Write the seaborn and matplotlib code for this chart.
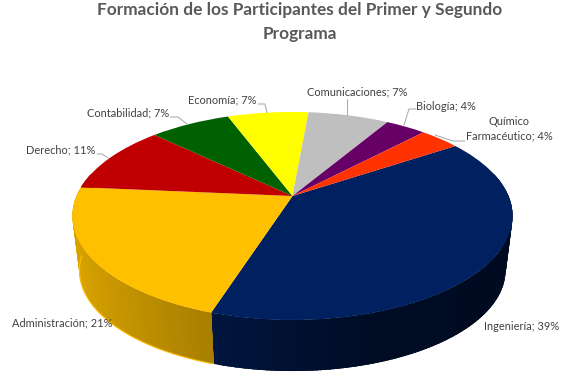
import numpy as np
import seaborn as sns
from matplotlib import pyplot as plt
from matplotlib.transforms import Transform

categories = ["Ingeniería", "Administración", "Derecho", "Contabilidad",
              "Economía", "Comunicaciones", "Biología", "Químico\nFarmacéutico"]
participants = [11, 6, 3, 2, 2, 2, 1, 1]
slice_colors = ["#002060", "#FFC000", "#C00000", "#006100",
                "#FFFF00", "#BFBFBF", "#660066", "#FF3300"]
title = "Formación de los Participantes del Primer y Segundo\nPrograma"

# label anchors, figure pixels (center x, center y)
label_pos = [(522, 326), (62, 323), (61, 150), (128, 113),
             (222, 100), (357, 92), (446, 106), (509, 129)]
leaders = [None, None,
           [(97, 154), (102, 154), (108, 158)],
           [(170, 117), (178, 117), (187, 124)],
           [(258, 104), (265, 104), (267, 113)],
           [(347, 99), (347, 115)],
           [(416, 109), (409, 109), (404, 125)],
           [(465, 141), (453, 141), (435, 135)]]

sns.set_theme(style="white")
plt.rcParams['font.family'] = ['Lato', 'DejaVu Sans']

# perspective of the pie plane, fitted on the picture
APEX_X, APEX_Y = 292.5, 196
PERSP_K, PERSP_A, PERSP_S = 0.192, 100.2, 216
DEPTH, BOTTOM_SCALE = 55, 0.968


def project(u, v, scale=1.0, drop=0.0):
    w = 1 + PERSP_K * v
    return APEX_X + scale * PERSP_S * u / w, APEX_Y + drop - scale * PERSP_A * v / w


class PieProjection(Transform):
    input_dims = 2
    output_dims = 2
    is_affine = False

    def __init__(self):
        super().__init__()
        self._interpolation_steps = 8

    def transform_non_affine(self, values):
        x, y = project(values[:, 0], values[:, 1])
        return np.column_stack([x, y])


fig, ax = plt.subplots(figsize=(5.78, 3.87), dpi=100)
fig.subplots_adjust(left=0, right=1, top=1, bottom=0)

palette = sns.color_palette(slice_colors)
wedges, _ = ax.pie(participants, colors=palette, startangle=33.5, counterclock=False,
                   wedgeprops={'linewidth': 0})
ax.set_aspect('auto')
ax.set_xlim(0, 578)
ax.set_ylim(387, 0)
ax.axis('off')

for w in wedges:
    w.set_transform(PieProjection() + ax.transData)
    w.set_zorder(5)
    w.set_clip_on(False)

# side wall, shaded strip by strip; strips overlap so no seams show
for w, col in zip(wedges, palette):
    t = np.deg2rad(np.arange(w.theta1, w.theta2 + 1.0, 1.0))
    t[-1] = min(t[-1], np.deg2rad(w.theta2))
    for t0, t1 in zip(t[:-1], t[1:]):
        t1 = min(t1 + np.deg2rad(1.5), np.deg2rad(w.theta2))
        u0, v0, u1, v1 = np.cos(t0), np.sin(t0), np.cos(t1), np.sin(t1)
        if v0 > 0.2 and v1 > 0.2:
            continue
        shade = np.interp((u0 + u1) / 2, [-1, -0.3, 0.3, 1], [0.87, 0.66, 0.38, 0.34])
        side = tuple(c * shade for c in col)
        x0, y0 = project(u0, v0)
        x1, y1 = project(u1, v1)
        x2, y2 = project(u1, v1, BOTTOM_SCALE, DEPTH)
        x3, y3 = project(u0, v0, BOTTOM_SCALE, DEPTH)
        ax.fill([x0, x1, x2, x3], [y0, y1, y2, y3], color=side, lw=0, zorder=2)

# bright rim under the Administración wall
w = wedges[1]
t = np.deg2rad(np.linspace(w.theta1, w.theta2, 60))
t = t[np.sin(t) < -0.03]
rx, ry = project(np.cos(t), np.sin(t), BOTTOM_SCALE, DEPTH)
ax.plot(rx, ry, color=slice_colors[1], lw=0.8, zorder=3)

total = sum(participants)
for name, n, (lx, ly), lead in zip(categories, participants, label_pos, leaders):
    ax.text(lx, ly, "%s; %d%%" % (name, round(100 * n / total)), ha='center', va='center',
            fontsize=7.9, color="#404040", linespacing=1.4, zorder=6)
    if lead is not None:
        ax.plot(*zip(*lead), color="#A6A6A6", lw=0.7, zorder=6)

ax.text(300, 22, title, ha='center', va='center', fontsize=12.45, fontweight='bold',
        color="#595959", linespacing=1.62)

plt.savefig("out.png", dpi=100)
